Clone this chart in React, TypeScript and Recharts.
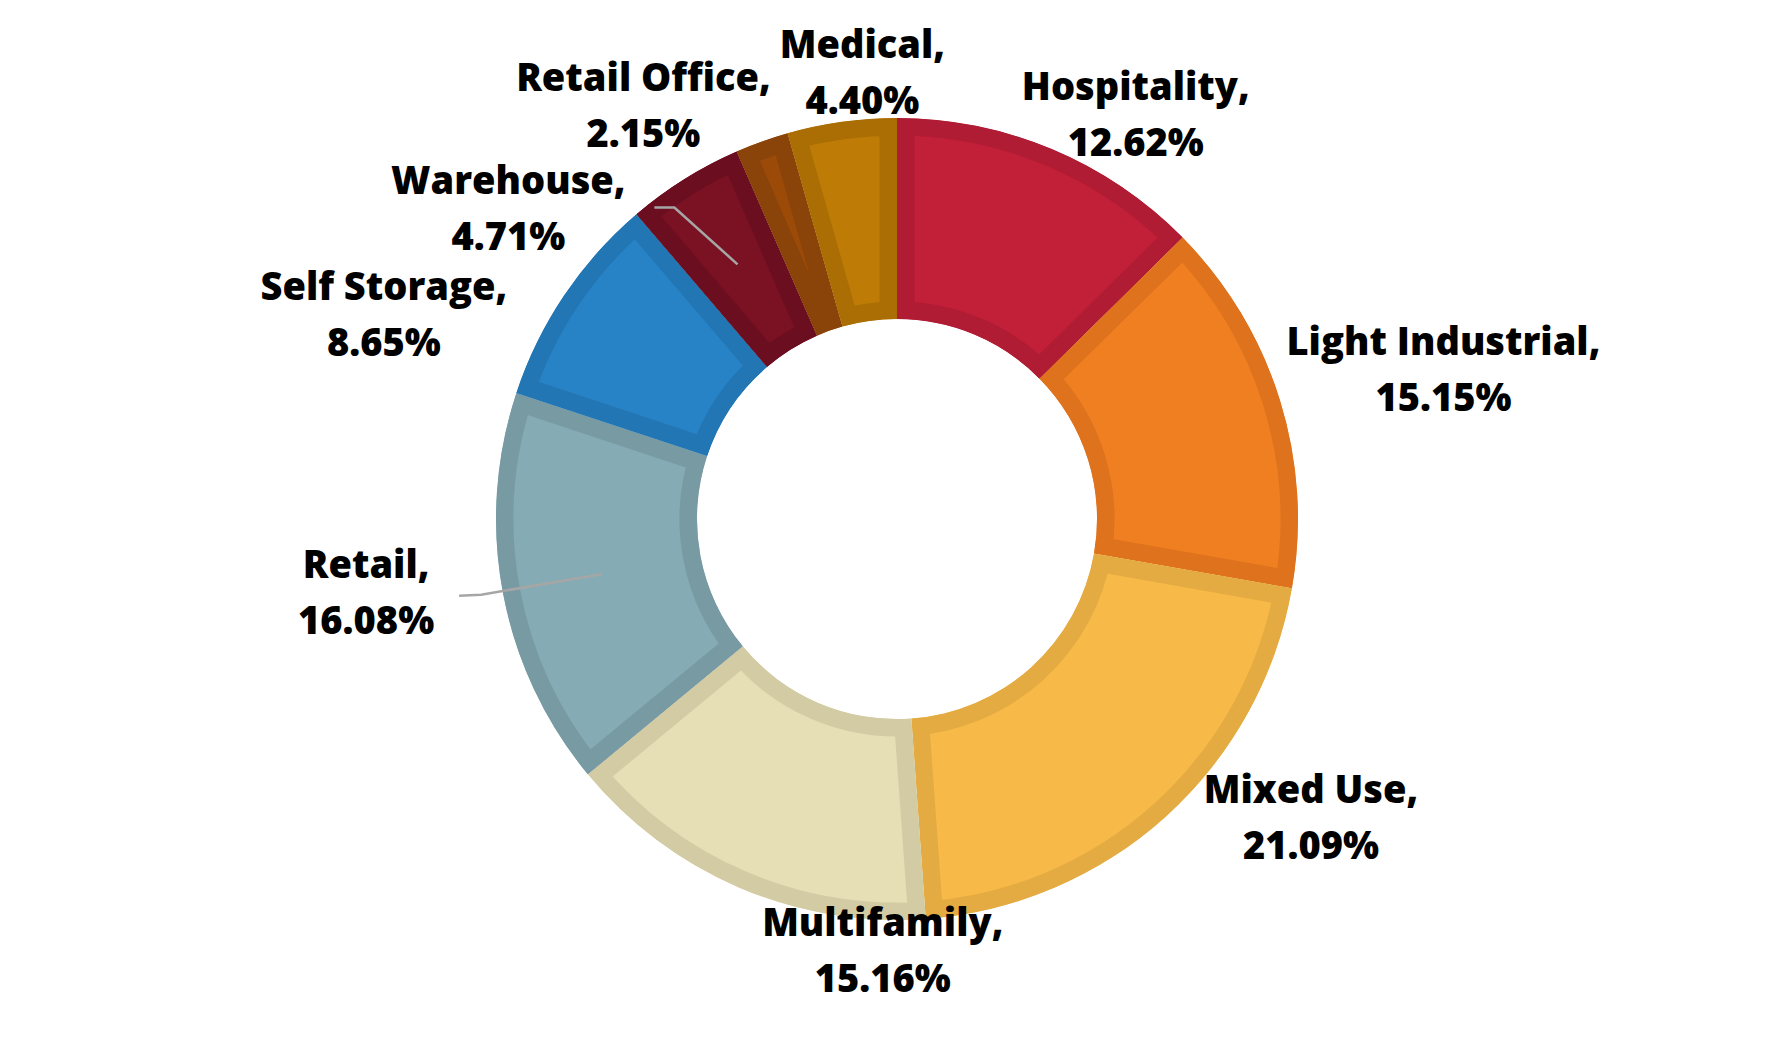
import React from 'react';
import { PieChart, Pie, Cell, Sector } from 'recharts';

const CATEGORIES = [
  'Hospitality',
  'Light Industrial',
  'Mixed Use',
  'Multifamily',
  'Retail',
  'Self Storage',
  'Warehouse',
  'Retail Office',
  'Medical',
];
const SHARES = [12.62, 15.15, 21.09, 15.16, 16.08, 8.65, 4.71, 2.15, 4.4];
const PERCENT_LABELS = ['12.62%', '15.15%', '21.09%', '15.16%', '16.08%', '8.65%', '4.71%', '2.15%', '4.40%'];

const FILLS = ['#C21F38', '#F07F22', '#F7B948', '#E6DFB5', '#85ABB4', '#2782C6', '#7A1223', '#9C4A08', '#BE7C06'];
const BANDS = ['#B01C34', '#DE721D', '#E4AB42', '#D3CBA4', '#789BA3', '#2376B4', '#6B0F20', '#8A4409', '#AA6E04'];

// label nudges relative to the default polar anchor (outerRadius + 75)
const LABEL_NUDGE: [number, number][] = [
  [55, 48],
  [92, 6],
  [95, -41],
  [173, 7],
  [-63, -1],
  [-118, 74],
  [-136, 106],
  [-93, 48],
  [31, 38],
];

// leader lines (relative to label centre): [elbow, end]
const LEADERS: Record<string, { elbow: [number, number]; end: [number, number] }> = {
  Warehouse: { elbow: [166, -14], end: [146, -14] },
  Retail: { elbow: [115, -11], end: [93, -10] },
};

const data = CATEGORIES.map((name, i) => ({ name, value: SHARES[i] }));

const RAD = Math.PI / 180;
const FONT = '"Open Sans", Lato, "Noto Sans", sans-serif';

const idxOf = (props: any) => {
  const name = props.name ?? props.payload?.name;
  const i = CATEGORIES.indexOf(name);
  return i >= 0 ? i : props.index ?? 0;
};

const renderSector = (props: any) => {
  const { cx, cy, innerRadius, outerRadius, startAngle, endAngle } = props;
  const i = idxOf(props);
  const id = `clip-sector-${i}`;
  const geom = { cx, cy, innerRadius, outerRadius, startAngle, endAngle };
  return (
    <g>
      <defs>
        <clipPath id={id}>
          <Sector {...geom} />
        </clipPath>
      </defs>
      <Sector {...geom} fill={FILLS[i]} stroke={BANDS[i]} strokeWidth={35} clipPath={`url(#${id})`} />
    </g>
  );
};

const renderLabel = (props: any) => {
  const { cx, cy, midAngle, outerRadius, innerRadius } = props;
  const i = idxOf(props);
  const r = outerRadius + 75;
  const bx = cx + r * Math.cos(-midAngle * RAD);
  const by = cy + r * Math.sin(-midAngle * RAD);
  const [dx, dy] = LABEL_NUDGE[i];
  const px = bx + dx;
  const py = by + dy;
  const name = CATEGORIES[i];
  const leader = LEADERS[name];
  let leaderEl = null;
  if (leader) {
    const mr = (innerRadius + outerRadius) / 2;
    const sx = cx + mr * Math.cos(-midAngle * RAD);
    const sy = cy + mr * Math.sin(-midAngle * RAD);
    const pts = [
      [px + leader.end[0], py + leader.end[1]],
      [px + leader.elbow[0], py + leader.elbow[1]],
      [sx, sy],
    ];
    leaderEl = (
      <polyline
        points={pts.map((p) => p.join(',')).join(' ')}
        fill="none"
        stroke="#A6A6A6"
        strokeWidth={2.5}
      />
    );
  }
  return (
    <g>
      {leaderEl}
      <text x={px} y={py - 28} textAnchor="middle" fontFamily={FONT} fontWeight={800} fontSize={38} fill="#000">
        {name},
      </text>
      <text x={px} y={py + 28} textAnchor="middle" fontFamily={FONT} fontWeight={800} fontSize={38} fill="#000">
        {PERCENT_LABELS[i]}
      </text>
    </g>
  );
};

export default function App() {
  return (
    <div style={{ width: 1776, height: 1024, background: '#fff' }}>
      <PieChart width={1776} height={1024}>
        <Pie
          data={data}
          dataKey="value"
          nameKey="name"
          cx={884}
          cy={506}
          innerRadius={200}
          outerRadius={401}
          startAngle={90}
          endAngle={-270}
          stroke="none"
          isAnimationActive={false}
          label={renderLabel}
          labelLine={false}
          shape={renderSector}
          activeShape={renderSector}
          inactiveShape={renderSector}
        >
          {data.map((d, i) => (
            <Cell key={d.name} fill={FILLS[i]} stroke={BANDS[i]} />
          ))}
        </Pie>
      </PieChart>
    </div>
  );
}
